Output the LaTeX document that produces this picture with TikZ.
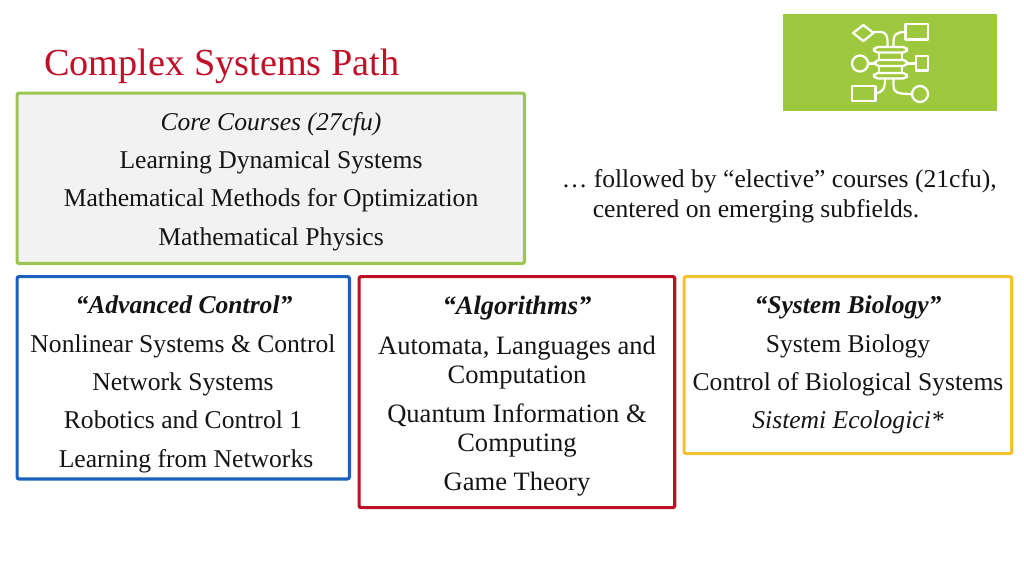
\documentclass[tikz,border=0pt]{standalone}
\usepackage{fontspec}
\setmainfont{Liberation Serif}
\definecolor{titlered}{RGB}{192,16,40}
\definecolor{lgreen}{RGB}{155,198,84}
\definecolor{iconGreen}{RGB}{158,200,62}
\definecolor{bblue}{RGB}{28,96,190}
\definecolor{bred}{RGB}{190,16,36}
\definecolor{byellow}{RGB}{240,194,48}
\tikzset{
  panel/.style={draw,line width=2.4pt,rounded corners=1.5pt,inner sep=0pt,anchor=north west},
  txt/.style={font=\fontsize{19.2pt}{20pt}\selectfont,text=black!92,inner sep=0pt,anchor=base},
  txtb/.style={txt,font=\fontsize{19.9pt}{20pt}\selectfont},
  icn/.style={draw=white,line width=1.7pt,line join=round},
}
\begin{document}
\begin{tikzpicture}[x=0.75pt,y=-0.75pt]
\useasboundingbox (0,0) rectangle (1024,576);
% title
\node[anchor=base west,inner sep=0pt,text=titlered,font=\fontsize{28.7pt}{30pt}\selectfont] (title) at (44,75) {Complex Systems Path};
% panels
\node[panel,draw=lgreen,fill=black!5,minimum width=380.5pt,minimum height=127.75pt] (core) at (15.5,91.5) {};
\node[panel,draw=bblue,minimum width=249.25pt,minimum height=151.75pt] (ctrl) at (15.5,275) {};
\node[panel,draw=bred,minimum width=236.75pt,minimum height=173.25pt] (algo) at (357.5,275) {};
\node[panel,draw=byellow,minimum width=245.75pt,minimum height=132.75pt] (bio) at (682.5,275) {};
% core
\node[txt] (c1) at (271,130) {\itshape Core Courses (27cfu)};
\node[txt] (c2) at (271,168) {Learning Dynamical Systems};
\node[txt] (c3) at (271,206.5) {Mathematical Methods for Optimization};
\node[txt] (c4) at (271,245) {Mathematical Physics};
% elective
\node[txt,anchor=base west] (e1) at (561.5,187) {… followed by “elective” courses (21cfu),};
\node[txt,anchor=base west] (e2) at (592.5,217) {centered on emerging subfields.};
% control
\node[txt] (a1) at (184,313) {\bfseries\itshape “Advanced Control”};
\node[txt] (a2) at (183,352) {Nonlinear Systems \& Control};
\node[txt] (a3) at (183,390) {Network Systems};
\node[txt] (a4) at (183,428) {Robotics and Control 1};
\node[txt] (a5) at (186,467) {Learning from Networks};
% algorithms
\node[txtb] (b1) at (517,314) {\bfseries\itshape “Algorithms”};
\node[txtb] (b2) at (517,354) {Automata, Languages and};
\node[txtb] (b3) at (517,383) {Computation};
\node[txtb] (b4) at (517,422) {Quantum Information \&};
\node[txtb] (b5) at (517,451) {Computing};
\node[txtb] (b6) at (517,490) {Game Theory};
% biology
\node[txt] (d1) at (848,313) {\bfseries\itshape “System Biology”};
\node[txt] (d2) at (848,352) {System Biology};
\node[txt] (d3) at (848,390) {Control of Biological Systems};
\node[txt] (d4) at (848,428) {\itshape Sistemi Ecologici*};
% icon
\fill[iconGreen] (783,14) rectangle (997,111);
\draw[icn] (853,33) -- (863.3,25) -- (873.5,33) -- (863.3,41) -- cycle;
\draw[icn] (905.5,24) rectangle (928,39.5);
\draw[icn] (873.5,32) -- (881,32) .. controls (885.5,32) and (887.5,36) .. (887.5,41) -- (887.5,47);
\draw[icn] (893.5,47) -- (893.5,41) .. controls (893.5,35) and (896,32) .. (905.5,32);
\draw[icn,rounded corners=3pt] (874,47) rectangle (907,52.5);
\draw[icn,rounded corners=3pt] (875,60) rectangle (907,66);
\draw[icn,rounded corners=3pt] (874,73) rectangle (907,78.5);
\draw[icn] (879,52.5) -- (879,60) (902,52.5) -- (902,60) (879,66) -- (879,73) (902,66) -- (902,73);
\draw[icn] (860,63.5) circle (8);
\draw[icn] (868,63.5) -- (875,63.5);
\draw[icn] (916,56) rectangle (928,70.5);
\draw[icn] (907,63.5) -- (916,63.5);
\draw[icn] (852,86) rectangle (875.5,101);
\draw[icn] (875.5,93) .. controls (883,93) and (885,88) .. (885,78.5);
\draw[icn] (893.5,78.5) -- (893.5,86) .. controls (893.5,92) and (896,94) .. (912,94);
\draw[icn] (920,94) circle (8);
\end{tikzpicture}
\end{document}
